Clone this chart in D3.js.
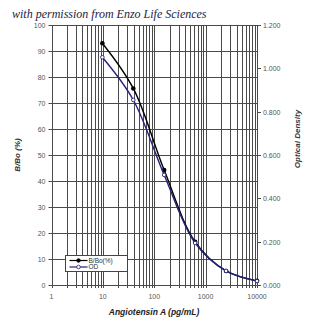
<!DOCTYPE html>
<html>
<head>
<meta charset="utf-8">
<script src="https://cdn.jsdelivr.net/npm/d3@7"></script>
<style>
  html, body { margin: 0; padding: 0; background: #fff; }
  svg { display: block; }
</style>
</head>
<body>
<svg id="chart" width="323" height="330"></svg>
<script>
// Standard concentrations (pg/mL), 4-fold dilution series
const concentrations = [9.77, 39.1, 156, 625, 2500, 10000];
// Percent bound relative to maximum binding
const bBo = [93.0, 75.6, 44.2, 16.6, 5.4, 1.6];
// Optical density readings
const od = [1.051, 0.854, 0.508, 0.194, 0.065, 0.018];

const xTicks = [1, 10, 100, 1000, 10000];
const yLeftTicks = [0, 10, 20, 30, 40, 50, 60, 70, 80, 90, 100];
const yRightTicks = [0, 0.2, 0.4, 0.6, 0.8, 1.0, 1.2];
const legendLabels = ["B/Bo(%)", "OD"];

const svg = d3.select("#chart");
const m = { left: 51.5, right: 257, top: 25, bottom: 285 };

const x = d3.scaleLog().domain([1, 10000]).range([m.left, m.right]);
const yL = d3.scaleLinear().domain([0, 100]).range([m.bottom, m.top]);
const yR = d3.scaleLinear().domain([0, 1.2]).range([m.bottom, m.top]);

const gridColor = "#4a4a4a";
const textColor = "#555";

// Vertical grid lines at every log minor step
const minor = [];
for (let d = 1; d < 10000; d *= 10) for (let k = 1; k < 10; k++) minor.push(d * k);
minor.push(10000);

svg.append("g").selectAll("line").data(minor).join("line")
  .attr("x1", d => Math.round(x(d)) + 0.5).attr("x2", d => Math.round(x(d)) + 0.5)
  .attr("y1", m.top).attr("y2", m.bottom + 3)
  .attr("stroke", gridColor).attr("stroke-width", 1);

// Horizontal grid lines
svg.append("g").selectAll("line").data(yLeftTicks).join("line")
  .attr("x1", m.left - 3).attr("x2", m.right)
  .attr("y1", d => Math.round(yL(d)) + 0.5).attr("y2", d => Math.round(yL(d)) + 0.5)
  .attr("stroke", gridColor).attr("stroke-width", 1);

// Right axis line and ticks
svg.append("line")
  .attr("x1", Math.round(m.right) + 0.5).attr("x2", Math.round(m.right) + 0.5)
  .attr("y1", m.top).attr("y2", m.bottom)
  .attr("stroke", gridColor);
svg.append("g").selectAll("line").data(yRightTicks).join("line")
  .attr("x1", m.right).attr("x2", m.right + 4)
  .attr("y1", d => Math.round(yR(d)) + 0.5).attr("y2", d => Math.round(yR(d)) + 0.5)
  .attr("stroke", gridColor);

// Tick labels
const tickFont = "Liberation Sans, Arial, sans-serif";
svg.append("g").selectAll("text").data(yLeftTicks).join("text")
  .attr("x", m.left - 6).attr("y", d => yL(d) + 3)
  .attr("text-anchor", "end")
  .attr("font-family", tickFont).attr("font-size", 7).attr("fill", textColor)
  .text(d => d);

svg.append("g").selectAll("text").data(yRightTicks).join("text")
  .attr("x", m.right + 6).attr("y", d => yR(d) + 3)
  .attr("font-family", tickFont).attr("font-size", 7).attr("fill", textColor)
  .text(d => d3.format(".3f")(d));

svg.append("g").selectAll("text").data(xTicks).join("text")
  .attr("x", d => x(d)).attr("y", 299)
  .attr("text-anchor", "middle")
  .attr("font-family", tickFont).attr("font-size", 7).attr("fill", textColor)
  .text(d => d);

// Axis titles
svg.append("text")
  .attr("transform", "translate(20,155) rotate(-90)")
  .attr("text-anchor", "middle")
  .attr("font-family", tickFont).attr("font-size", 8).attr("font-style", "italic")
  .attr("font-weight", "bold").attr("fill", "#333")
  .text("B/Bo (%)");

svg.append("text")
  .attr("transform", "translate(300,139) rotate(-90)")
  .attr("text-anchor", "middle")
  .attr("font-family", tickFont).attr("font-size", 8).attr("font-style", "italic")
  .attr("font-weight", "bold").attr("fill", "#333")
  .text("Optical Density");

svg.append("text")
  .attr("x", 154).attr("y", 315)
  .attr("text-anchor", "middle")
  .attr("font-family", tickFont).attr("font-size", 8.5).attr("font-style", "italic")
  .attr("font-weight", "bold").attr("fill", "#222")
  .text("Angiotensin A (pg/mL)");

// Header note
svg.append("text")
  .attr("x", 12).attr("y", 18)
  .attr("font-family", "Liberation Serif, serif").attr("font-size", 12)
  .attr("font-style", "italic").attr("fill", "#1c1c40")
  .text("with permission from Enzo Life Sciences");

// Curves
const curve = d3.curveCatmullRom.alpha(0.5);
const bboLine = d3.line().x((d, i) => x(concentrations[i])).y(d => yL(d)).curve(curve);
const odLine = d3.line().x((d, i) => x(concentrations[i])).y(d => yR(d)).curve(curve);

const odColor = "#22227a";

svg.append("path").attr("d", bboLine(bBo))
  .attr("fill", "none").attr("stroke", "#000").attr("stroke-width", 1.4);
svg.append("g").selectAll("circle").data(bBo).join("circle")
  .attr("cx", (d, i) => x(concentrations[i])).attr("cy", d => yL(d))
  .attr("r", 2.3).attr("fill", "#000");

svg.append("path").attr("d", odLine(od))
  .attr("fill", "none").attr("stroke", odColor).attr("stroke-width", 1.4);
svg.append("g").selectAll("circle").data(od).join("circle")
  .attr("cx", (d, i) => x(concentrations[i])).attr("cy", d => yR(d))
  .attr("r", 1.8).attr("fill", "#fff").attr("stroke", odColor).attr("stroke-width", 0.9);

// Legend
const lg = svg.append("g").attr("transform", "translate(65.5,255.5)");
lg.append("rect").attr("width", 62).attr("height", 16)
  .attr("fill", "#fff").attr("stroke", "#444");
const legendStyles = [
  { color: "#000", fill: "#000" },
  { color: odColor, fill: "#fff" }
];
legendLabels.forEach((lab, i) => {
  const yy = 5 + i * 6.5;
  lg.append("line").attr("x1", 4).attr("x2", 22).attr("y1", yy).attr("y2", yy)
    .attr("stroke", legendStyles[i].color).attr("stroke-width", 1.2);
  lg.append("circle").attr("cx", 13).attr("cy", yy).attr("r", 1.8)
    .attr("fill", legendStyles[i].fill).attr("stroke", legendStyles[i].color).attr("stroke-width", 0.8);
  lg.append("text").attr("x", 23).attr("y", yy + 2.2)
    .attr("font-family", tickFont).attr("font-size", 6.5).attr("fill", "#333")
    .text(lab);
});
</script>
</body>
</html>
